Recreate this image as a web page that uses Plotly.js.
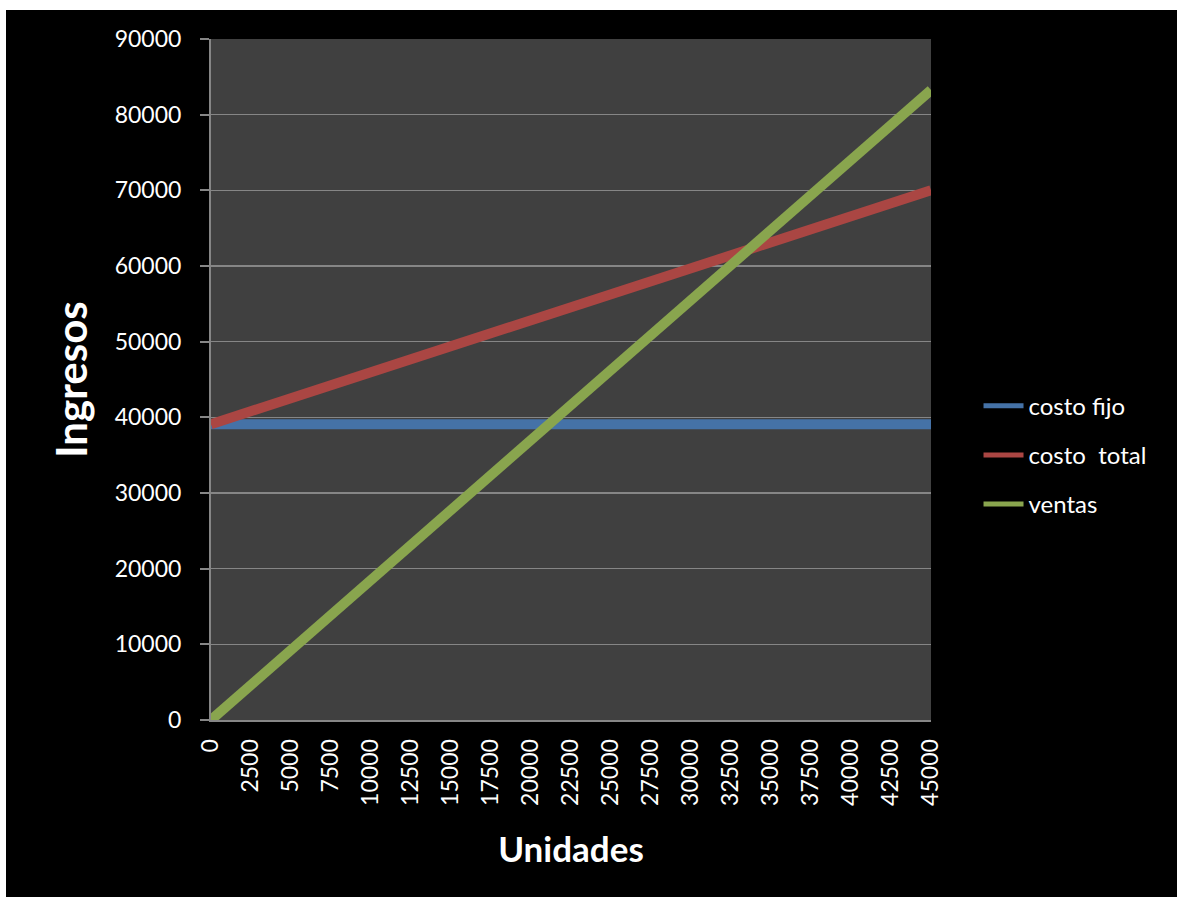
<!DOCTYPE html>
<html>
<head>
<meta charset="utf-8">
<script src="https://cdn.plot.ly/plotly-3.0.1.min.js"></script>
<style>
html,body{margin:0;padding:0;background:#ffffff;width:1183px;height:898px;overflow:hidden;}
#chart{position:absolute;left:6px;top:10px;width:1171px;height:887px;}
</style>
</head>
<body>
<div id="chart"></div>
<script>
const unidades = [0,2500,5000,7500,10000,12500,15000,17500,20000,22500,25000,27500,30000,32500,35000,37500,40000,42500,45000];
const costoFijo = [39100,39100,39100,39100,39100,39100,39100,39100,39100,39100,39100,39100,39100,39100,39100,39100,39100,39100,39100];
const costoTotal = [39100,40817,42533,44250,45967,47683,49400,51117,52833,54550,56267,57983,59700,61417,63133,64850,66567,68283,70000];
const ventas = [0,4625,9250,13875,18500,23125,27750,32375,37000,41625,46250,50875,55500,60125,64750,69375,74000,78625,83250];
const tickLabels = unidades.map(String);
const seriesNames = ['costo fijo','costo  total','ventas'];
const colors = ['#4572A7', '#AA4643', '#89A54E'];
const seriesValues = [costoFijo, costoTotal, ventas];

const FONT = 'Lato, "Open Sans", sans-serif';

const data = [];
seriesValues.forEach((vals, i) => {
  data.push({
    x: unidades, y: vals, name: seriesNames[i], type: 'scatter', mode: 'lines',
    line: {color: colors[i], width: 10}, cliponaxis: false, showlegend: false
  });
});
// legend entries (thinner line samples, as in the reference legend)
seriesValues.forEach((vals, i) => {
  data.push({
    x: [null], y: [null], name: seriesNames[i], type: 'scatter', mode: 'lines',
    line: {color: colors[i], width: 5}, legendgroup: 'g' + i, showlegend: true, hoverinfo: 'skip'
  });
});

const layout = {
  width: 1171, height: 887,
  paper_bgcolor: '#000000', plot_bgcolor: '#404040',
  margin: {l: 205, r: 246, t: 29, b: 177, pad: 0},
  font: {family: FONT, color: '#ffffff', size: 23},
  showlegend: true,
  legend: {
    x: 1.066, xanchor: 'left', y: 0.389, yanchor: 'middle',
    font: {family: FONT, color: '#ffffff', size: 24},
    bgcolor: 'rgba(0,0,0,0)', tracegroupgap: 15, itemwidth: 40
  },
  xaxis: {
    range: [0, 45000], tickmode: 'array', tickvals: unidades, ticktext: tickLabels,
    tickangle: -90, showgrid: false, zeroline: false,
    showline: true, linecolor: '#868686', linewidth: 2,
    ticks: '', ticklabelstandoff: 8,
    tickfont: {family: FONT, color: '#ffffff', size: 23},
    title: {text: '<b>Unidades</b>', font: {family: FONT, color: '#ffffff', size: 35}, standoff: 33}
  },
  yaxis: {
    range: [0, 90000], dtick: 10000, tickformat: 'd',
    showgrid: true, gridcolor: '#868686', gridwidth: 1.5, zeroline: false,
    showline: true, linecolor: '#868686', linewidth: 2,
    ticks: 'outside', ticklen: 9, tickcolor: '#868686', tickwidth: 2,
    ticklabelstandoff: 14,
    tickfont: {family: FONT, color: '#ffffff', size: 23},
    title: {text: '<b>Ingresos</b>', font: {family: FONT, color: '#ffffff', size: 42}, standoff: 14}
  }
};

Plotly.newPlot('chart', data, layout, {displayModeBar: false, staticPlot: true});
</script>
</body>
</html>
